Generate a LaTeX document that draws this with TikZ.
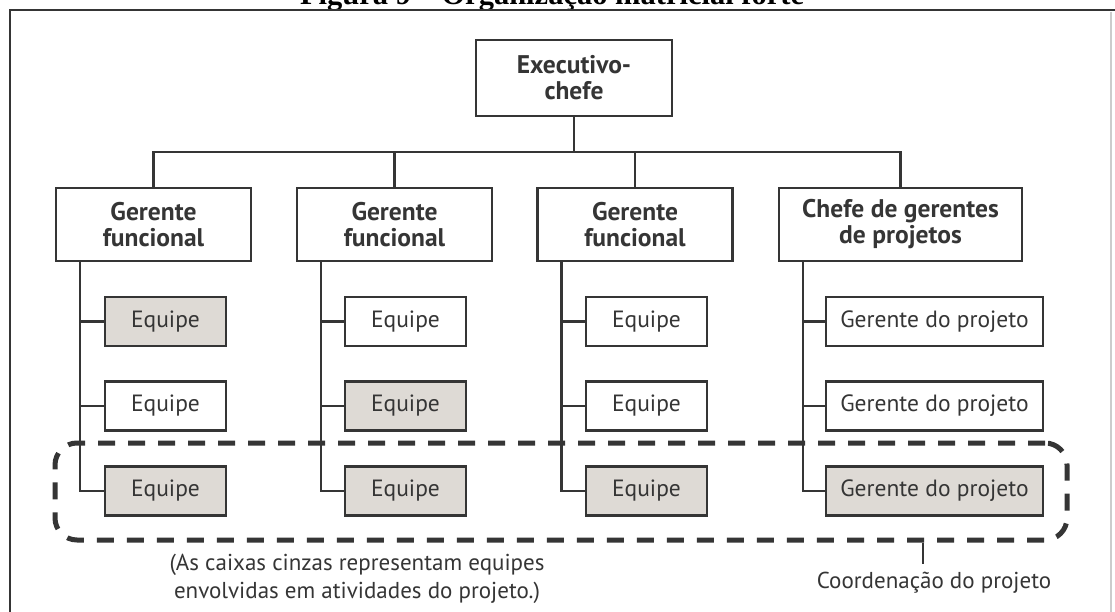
\documentclass[tikz,border=0pt]{standalone}
\usepackage{fontspec}
\setmainfont{PT Sans}
\newfontfamily\titlefont{Liberation Serif}

\definecolor{ink}{HTML}{353535}
\definecolor{teamgray}{HTML}{DEDAD5}

\begin{document}
\begin{tikzpicture}[x=1pt,y=-1pt,
  box/.style={draw=ink, line width=2.4pt, rectangle, inner sep=0pt, text=ink},
  head/.style={box, align=center, minimum height=73pt,
    font=\bfseries\fontsize{25.5}{26}\selectfont},
  team/.style={box, minimum width=121pt, minimum height=49pt,
    font=\fontsize{23.5}{24}\selectfont},
  pm/.style={team, minimum width=217pt},
  active/.style={fill=teamgray},
  link/.style={draw=ink, line width=2.4pt},
  note/.style={text=ink, align=center, font=\fontsize{23}{28}\selectfont},
  coordframe/.style={draw=ink, line width=5pt, dash pattern=on 17pt off 13pt,
    rounded corners=22pt, inner sep=0pt},
]
% page and outer frame
\clip (0,0) rectangle (1115,612);
\fill[white] (0,0) rectangle (1115,612);
\node[anchor=base, text=black, font=\titlefont\bfseries\fontsize{30.5}{32}\selectfont]
  (title) at (552,5) {Figura 9 – Organização matricial forte};
\draw[ink, line width=2pt] (10,614) -- (10,10) -- (1117,10);
\draw[black!20, line width=1.5pt] (1111,12) -- (1111,614);

% top level
\node[head, minimum width=196pt, minimum height=76pt] (exec) at (574,78) {Executivo-\\chefe};
\coordinate (bus) at (574,152);

% managers
\node[head, minimum width=195pt] (g1) at (153.5,224.5) {Gerente\\funcional};
\node[head, minimum width=195pt] (g2) at (394.5,224.5) {Gerente\\funcional};
\node[head, minimum width=195pt] (g3) at (635,224.5) {Gerente\\funcional};
\node[head, minimum width=243pt] (g4) at (900.5,224.5) {Chefe de gerentes\\de projetos};

% teams and project managers
\node[team, active] (t11) at (165.5,321.5) {Equipe};
\node[team]         (t12) at (165.5,406)   {Equipe};
\node[team, active] (t13) at (165.5,491)   {Equipe};
\node[team]         (t21) at (405.5,321.5) {Equipe};
\node[team, active] (t22) at (405.5,406)   {Equipe};
\node[team, active] (t23) at (405.5,491)   {Equipe};
\node[team]         (t31) at (646.5,321.5) {Equipe};
\node[team]         (t32) at (646.5,406)   {Equipe};
\node[team, active] (t33) at (646.5,491)   {Equipe};
\node[pm]           (t41) at (934.5,321.5) {Gerente do projeto};
\node[pm]           (t42) at (934.5,406)   {Gerente do projeto};
\node[pm, active]   (t43) at (934.5,491)   {Gerente do projeto};

% executive to managers
\draw[link] (exec.south) -- (bus);
\draw[link] (g1.north) -- (g1.north |- bus) -- (g4.north |- bus) -- (g4.north);
\draw[link] (g2.north) -- (g2.north |- bus);
\draw[link] (g3.north) -- (g3.north |- bus);

% managers to their teams
\foreach \c in {1,2,3,4}{
  \coordinate (s\c) at ([xshift=25pt]g\c.south west);
  \draw[link] (s\c) |- (t\c3.west);
  \draw[link] (t\c1.west) -- (t\c1.west -| s\c);
  \draw[link] (t\c2.west) -- (t\c2.west -| s\c);
}

% project coordination band
\node[coordframe, minimum width=1012pt, minimum height=97pt] (band) at (561,491.5) {};
\node[note, anchor=center] (coordlabel) at (934,583) {Coordenação do projeto};
\coordinate (tick) at (923,564);
\draw[link] (band.south -| tick) -- (tick);

% legend
\node[note] (legend) at (357,579) {(As caixas cinzas representam equipes\\envolvidas em atividades do projeto.)};
\end{tikzpicture}
\end{document}
